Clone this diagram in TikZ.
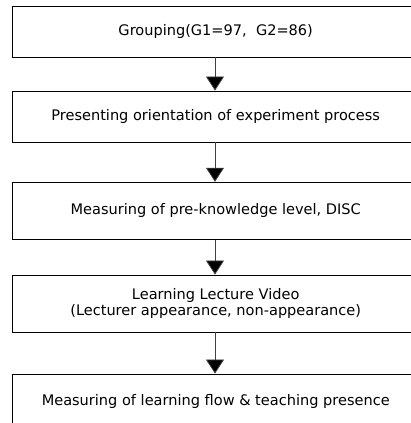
\documentclass[tikz,border=0pt]{standalone}
\usepackage{fontspec}
\setmainfont{DejaVu Sans}
\usetikzlibrary{arrows.meta}
\begin{document}
\begin{tikzpicture}[x=1bp,y=-1bp,
  stepbox/.style={draw=black,line width=0.9bp,minimum width=440bp,inner sep=0pt,anchor=west},
  steptext/.style={align=center,xshift=-16.25bp,font=\fontsize{14.6}{16.5}\selectfont},
  flow/.style={draw=black!75,line width=0.8bp,-{Triangle[width=18bp,length=14bp,fill=black]}}]
\useasboundingbox (0,0) rectangle (411,423);
\clip (0,0) rectangle (411,423);
\node[stepbox,minimum height=51bp,label={[steptext]center:Grouping(G1=97,\ \ G2=86)}] (b1) at (11.5,31.5) {};
\node[stepbox,minimum height=51bp,label={[steptext]center:Presenting orientation of experiment process}] (b2) at (11.5,116.5) {};
\node[stepbox,minimum height=57bp,label={[steptext]center:Measuring of pre-knowledge level, DISC}] (b3) at (11.5,210.75) {};
\node[stepbox,minimum height=57bp,label={[steptext]center:Learning Lecture Video\\(Lecturer appearance, non-appearance)}] (b4) at (11.5,303.5) {};
\node[stepbox,minimum height=54bp,label={[steptext]center:Measuring of learning flow \& teaching presence}] (b5) at (11.5,401) {};
\draw[flow] (b1.south -| 215,0) -- (b2.north -| 215,0);
\draw[flow] (b2.south -| 215,0) -- (b3.north -| 215,0);
\draw[flow] (b3.south -| 215,0) -- (b4.north -| 215,0);
\draw[flow] (b4.south -| 215,0) -- (b5.north -| 215,0);
\end{tikzpicture}
\end{document}
